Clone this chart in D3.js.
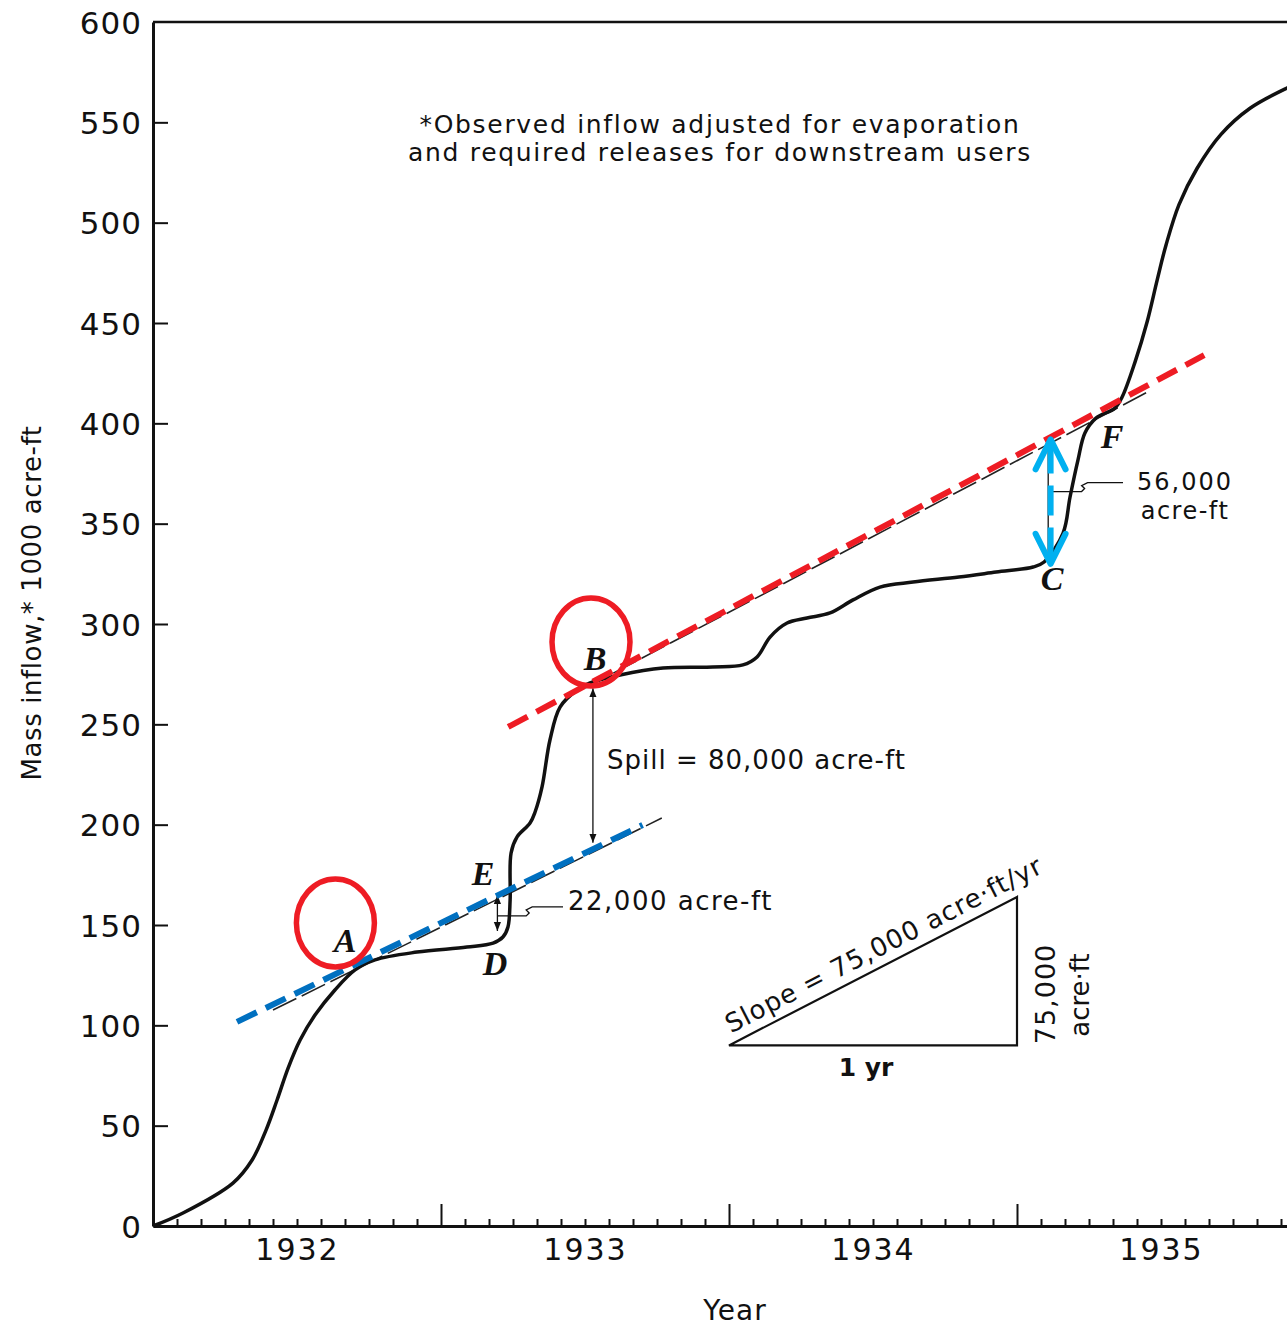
<!DOCTYPE html>
<html>
<head>
<meta charset="utf-8">
<script src="https://cdn.jsdelivr.net/npm/d3@7"></script>
<style>
  body { margin: 0; background: #fff; }
  svg { display: block; }
  .axis path, .axis line { stroke: #111; }
  .axis text { font-family: "DejaVu Sans", sans-serif; fill: #111; }
  .note { font-family: "DejaVu Sans", sans-serif; fill: #111; }
  .pt { font-family: "Liberation Serif", serif; font-style: italic; font-weight: bold; fill: #111; }
</style>
</head>
<body>
<svg id="chart" width="1287" height="1328"></svg>
<script>
// Mass curve, months counted from start of 1932 water year
var months = [0, 1.25, 3.33, 4.13, 4.71, 5.17, 5.63, 6.13, 6.75, 7.58, 8.42, 9.25, 11.0, 13.08, 14.17, 14.58,
  14.79, 14.88, 14.92, 15.17, 15.71, 15.92, 16.21, 16.54, 16.96, 17.67, 18.21, 19.46, 21.25, 23.33,
  24.58, 25.17, 25.71, 26.42, 27.25, 28.21, 29.17, 30.29, 31.67, 33.58, 35.13, 36.67, 37.13, 37.92,
  38.21, 38.54, 38.83, 39.29, 40.08, 40.38, 40.92, 41.42, 41.84, 42.21, 42.75, 43.5, 44.5, 45.71, 47.25, 48.2];
var inflow = [0, 6.5, 21.4, 32.9, 47.8, 62.8, 78.7, 92.7, 105.1, 117.6, 127.6, 132.6, 136.5, 139.0, 141.0, 144.0,
  149.0, 162.5, 185.9, 193.9, 200.8, 206.3, 218.8, 242.2, 258.6, 267.1, 270.6, 274.6, 278.1, 278.6,
  279.6, 283.6, 293.5, 300.5, 303.0, 305.5, 312.0, 318.4, 320.9, 323.4, 325.9, 328.4, 330.9, 345.3,
  363.3, 381.7, 395.2, 402.6, 407.6, 413.1, 430.6, 450.5, 471.4, 488.9, 509.0, 527.0, 544.0, 557.0, 567.1, 572];

var yTicks = [0, 50, 100, 150, 200, 250, 300, 350, 400, 450, 500, 550, 600];
var yearTicks = [12, 24, 36, 48];
var monthTicks = [1,2,3,4,5,6,7,8,9,10,11,13,14,15,16,17,18,19,20,21,22,23,25,26,27,28,29,30,31,32,33,34,35,
  37,38,39,40,41,42,43,44,45,46,47];
var yearLabelPos = [6, 18, 30, 42];
var yearLabels = ["1932", "1933", "1934", "1935"];

// tangent (demand) lines from the original figure
var tanLowM = [5.0, 21.2], tanLowV = [107.6, 203.3];
var tanUpM = [18.0, 41.6], tanUpV = [268.1, 416.6];
// overlays drawn on top
var blueM = [3.5, 20.4], blueV = [101.7, 199.8];
var redM = [14.8, 43.8], redV = [248.7, 434];
var circleM = [7.6, 18.25], circleV = [151, 291];
var cyanM = 37.4, cyanV = [392, 330];

var svg = d3.select("#chart");

var x = d3.scaleLinear().domain([0, 48]).range([153, 1305]);
var y = d3.scaleLinear().domain([0, 600]).range([1226, 22]);

// frame
svg.append("line").attr("x1", x(0)).attr("x2", 1290).attr("y1", y(600)).attr("y2", y(600))
  .attr("stroke", "#111").attr("stroke-width", 2.5);

var yAxis = svg.append("g").attr("class", "axis")
  .attr("transform", "translate(" + x(0) + ",0)")
  .call(d3.axisLeft(y).tickValues(yTicks).tickSizeInner(-15).tickSizeOuter(0).tickPadding(11));
yAxis.select(".domain").attr("stroke-width", 3);
yAxis.selectAll(".tick line").attr("stroke-width", 2);
yAxis.selectAll("text").attr("font-size", 31).attr("letter-spacing", 1).attr("dy", "0.36em");
yAxis.selectAll(".tick").filter(function(d) { return d === 0 || d === 600; }).select("line").remove();

var xMinor = svg.append("g").attr("class", "axis")
  .attr("transform", "translate(0," + y(0) + ")")
  .call(d3.axisBottom(x).tickValues(monthTicks).tickSizeInner(-7).tickSizeOuter(0).tickFormat(""));
xMinor.select(".domain").attr("stroke-width", 3);
xMinor.selectAll(".tick line").attr("stroke-width", 2);

var xMajor = svg.append("g").attr("class", "axis")
  .attr("transform", "translate(0," + y(0) + ")")
  .call(d3.axisBottom(x).tickValues(yearTicks).tickSizeInner(-22).tickSizeOuter(0).tickFormat(""));
xMajor.select(".domain").remove();
xMajor.selectAll(".tick line").attr("stroke-width", 2);

var xLab = svg.append("g").attr("class", "axis")
  .attr("transform", "translate(0," + y(0) + ")")
  .call(d3.axisBottom(x).tickValues(yearLabelPos).tickSize(0).tickPadding(13)
    .tickFormat(function(d, i) { return yearLabels[i]; }));
xLab.select(".domain").remove();
xLab.selectAll("text").attr("font-size", 30).attr("letter-spacing", 2);

svg.append("text").attr("class", "note").attr("x", 735).attr("y", 1320)
  .attr("text-anchor", "middle").attr("font-size", 28).attr("letter-spacing", 1).text("Year");

svg.append("text").attr("class", "note")
  .attr("transform", "translate(41," + 603 + ") rotate(-90)")
  .attr("text-anchor", "middle").attr("font-size", 26).attr("letter-spacing", 0.6)
  .text("Mass inflow,* 1000 acre-ft");

svg.append("text").attr("class", "note").attr("x", 720).attr("y", 133)
  .attr("text-anchor", "middle").attr("font-size", 25).attr("letter-spacing", 1.7)
  .text("*Observed inflow adjusted for evaporation");
svg.append("text").attr("class", "note").attr("x", 720).attr("y", 161)
  .attr("text-anchor", "middle").attr("font-size", 25).attr("letter-spacing", 1.7)
  .text("and required releases for downstream users");

// thin dashed demand lines
function seg(ms, vs) {
  return svg.append("line").attr("x1", x(ms[0])).attr("y1", y(vs[0]))
    .attr("x2", x(ms[1])).attr("y2", y(vs[1]));
}
seg(tanLowM, tanLowV).attr("stroke", "#222").attr("stroke-width", 1.6).attr("stroke-dasharray", "26,6");
seg(tanUpM, tanUpV).attr("stroke", "#222").attr("stroke-width", 1.6).attr("stroke-dasharray", "26,6");

// mass curve
var pts = months.map(function(m, i) { return [m, inflow[i]]; });
var line = d3.line().x(function(d) { return x(d[0]); }).y(function(d) { return y(d[1]); })
  .curve(d3.curveCatmullRom.alpha(0.5));
svg.append("path").datum(pts).attr("d", line)
  .attr("fill", "none").attr("stroke", "#111").attr("stroke-width", 3.5);

// arrowheads
var defs = svg.append("defs");
defs.append("marker").attr("id", "ah").attr("viewBox", "0 0 10 10").attr("refX", 10).attr("refY", 5)
  .attr("markerWidth", 9).attr("markerHeight", 9).attr("markerUnits", "userSpaceOnUse")
  .attr("orient", "auto-start-reverse")
  .append("path").attr("d", "M0,1L10,5L0,9Z").attr("fill", "#111");

function vArrow(m, v0, v1) {
  svg.append("line").attr("x1", x(m)).attr("x2", x(m)).attr("y1", y(v0)).attr("y2", y(v1))
    .attr("stroke", "#111").attr("stroke-width", 1.3)
    .attr("marker-start", "url(#ah)").attr("marker-end", "url(#ah)");
}
vArrow(18.33, 268, 191);
vArrow(14.35, 165, 147);
vArrow(37.3, 393, 331);

// leaders
function leader(px0, py0, px1, py1) {
  var mx = (px0 + px1) / 2;
  svg.append("path")
    .attr("d", "M" + px0 + "," + py0 + "H" + (mx - 4) + "l3,-3 l-3,-3 l6,-3 H" + px1)
    .attr("fill", "none").attr("stroke", "#111").attr("stroke-width", 1.3);
}
leader(x(14.35), y(154.5), 563, y(154.5) - 10);
leader(x(37.3), y(366), 1123, y(366) - 8);

svg.append("text").attr("class", "note").attr("x", 607).attr("y", 769).attr("font-size", 26)
  .attr("letter-spacing", 1).text("Spill = 80,000 acre-ft");
svg.append("text").attr("class", "note").attr("x", 568).attr("y", 910).attr("font-size", 26)
  .attr("letter-spacing", 1.5).text("22,000 acre-ft");
svg.append("text").attr("class", "note").attr("x", 1185).attr("y", 490).attr("font-size", 24)
  .attr("letter-spacing", 2).attr("text-anchor", "middle").text("56,000");
svg.append("text").attr("class", "note").attr("x", 1185).attr("y", 519).attr("font-size", 24)
  .attr("letter-spacing", 1.5).attr("text-anchor", "middle").text("acre-ft");

// point letters
var letters = [["A", 345, 952], ["B", 595, 670], ["C", 1052, 590], ["D", 495, 975], ["E", 483, 885], ["F", 1112, 448]];
svg.selectAll("text.pt").data(letters).enter().append("text").attr("class", "pt")
  .attr("x", function(d) { return d[1]; }).attr("y", function(d) { return d[2]; })
  .attr("text-anchor", "middle").attr("font-size", 34).text(function(d) { return d[0]; });

// slope triangle
var triM = [24, 36], triV = [90, 164];
svg.append("path")
  .attr("d", "M" + x(triM[0]) + "," + y(triV[0]) + "L" + x(triM[1]) + "," + y(triV[0]) +
    "L" + x(triM[1]) + "," + y(triV[1]) + "Z")
  .attr("fill", "none").attr("stroke", "#111").attr("stroke-width", 2.2);
var ang = Math.atan2(y(triV[0]) - y(triV[1]), x(triM[1]) - x(triM[0])) * 180 / Math.PI;
svg.append("text").attr("class", "note").attr("font-size", 26).attr("letter-spacing", 1)
  .attr("transform", "translate(" + (x(triM[0]) + 2) + "," + (y(triV[0]) - 12) + ") rotate(" + (-ang) + ")")
  .text("Slope = 75,000 acre\u00b7ft/yr");
svg.append("text").attr("class", "note").attr("font-size", 25).attr("font-weight", "bold")
  .attr("x", 866).attr("y", y(triV[0]) + 31).attr("text-anchor", "middle").text("1 yr");
svg.append("text").attr("class", "note").attr("font-size", 27).attr("letter-spacing", 1)
  .attr("transform", "translate(" + (x(triM[1]) + 38) + ",994) rotate(-90)")
  .attr("text-anchor", "middle").text("75,000");
svg.append("text").attr("class", "note").attr("font-size", 26)
  .attr("transform", "translate(" + (x(triM[1]) + 72) + ",995) rotate(-90)")
  .attr("text-anchor", "middle").text("acre\u00b7ft");

// coloured overlays
seg(blueM, blueV).attr("stroke", "#0070c0").attr("stroke-width", 6).attr("stroke-dasharray", "22,10");
seg(redM, redV).attr("stroke", "#ee1c24").attr("stroke-width", 6).attr("stroke-dasharray", "22,10");

svg.selectAll("ellipse.ring").data(circleM).enter().append("ellipse").attr("class", "ring")
  .attr("cx", function(d) { return x(d); })
  .attr("cy", function(d, i) { return y(circleV[i]); })
  .attr("rx", 39).attr("ry", 44)
  .attr("fill", "none").attr("stroke", "#ee1c24").attr("stroke-width", 5.5);

var cx = x(cyanM), cTop = y(cyanV[0]), cBot = y(cyanV[1]);
svg.append("line").attr("x1", cx).attr("x2", cx).attr("y1", cTop + 4).attr("y2", cBot - 4)
  .attr("stroke", "#00b0f0").attr("stroke-width", 6).attr("stroke-dasharray", "30,12");
svg.append("path").attr("d", "M" + (cx - 15) + "," + (cTop + 30) + "L" + cx + "," + cTop + "L" + (cx + 15) + "," + (cTop + 30))
  .attr("fill", "none").attr("stroke", "#00b0f0").attr("stroke-width", 6).attr("stroke-linejoin", "round").attr("stroke-linecap", "round");
svg.append("path").attr("d", "M" + (cx - 15) + "," + (cBot - 30) + "L" + cx + "," + cBot + "L" + (cx + 15) + "," + (cBot - 30))
  .attr("fill", "none").attr("stroke", "#00b0f0").attr("stroke-width", 6).attr("stroke-linejoin", "round").attr("stroke-linecap", "round");
</script>
</body>
</html>
